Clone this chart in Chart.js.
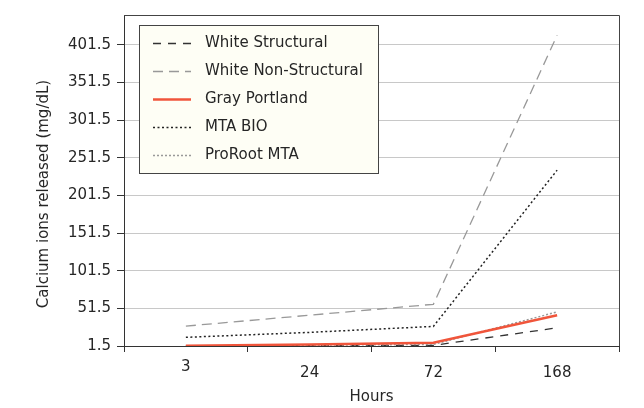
<!DOCTYPE html>
<html>
<head>
<meta charset="utf-8">
<script src="https://cdn.jsdelivr.net/npm/chart.js@4/dist/chart.umd.min.js"></script>
<style>
  body { margin: 0; background: #fff; }
  #chartCont { width: 644px; height: 408px; }
</style>
</head>
<body>
<div id="chartCont"><canvas id="myChart" width="644" height="408"></canvas></div>
<script>
const hours = ["3", "24", "72", "168"];
const whiteStructural = [1.5, 2, 2.4, 25.6];
const whiteNonStructural = [27.9, 42.4, 56.9, 414];
const grayPortland = [1.8, 3.5, 5.9, 42.4];
const mtaBio = [13, 19.6, 27.5, 235];
const proRootMta = [1.5, 2.5, 3.7, 46.7];
const yTicks = [1.5, 51.5, 101.5, 151.5, 201.5, 251.5, 301.5, 351.5, 401.5];
const yMin = 1.5;
const yMax = 441;

const FONT = "'DejaVu Sans', sans-serif";
const TEXT = "#262626";

// frame on top and right of plot area
const framePlugin = {
  id: "frame",
  afterDraw(chart) {
    const a = chart.chartArea;
    const ctx = chart.ctx;
    ctx.save();
    ctx.strokeStyle = "#444";
    ctx.lineWidth = 1;
    ctx.beginPath();
    ctx.moveTo(a.left, Math.round(a.top) + 0.5);
    ctx.lineTo(Math.round(a.right) + 0.5, Math.round(a.top) + 0.5);
    ctx.lineTo(Math.round(a.right) + 0.5, a.bottom);
    ctx.stroke();
    ctx.restore();
  },
};

// x tick labels, the first one sits a little higher
const xLabelPlugin = {
  id: "xLabels",
  afterDraw(chart) {
    const ctx = chart.ctx;
    const x = chart.scales.x;
    ctx.save();
    ctx.font = "15px " + FONT;
    ctx.fillStyle = TEXT;
    ctx.textAlign = "center";
    ctx.textBaseline = "middle";
    hours.forEach((h, i) => {
      const y = i === 0 ? 367 : 373;
      ctx.fillText(h, x.getPixelForValue(i), y);
    });
    ctx.restore();
  },
};

const yTitlePlugin = {
  id: "yTitle",
  afterDraw(chart) {
    const ctx = chart.ctx;
    ctx.save();
    ctx.translate(44, 194);
    ctx.rotate(-Math.PI / 2);
    ctx.font = "15px " + FONT;
    ctx.fillStyle = TEXT;
    ctx.textAlign = "center";
    ctx.textBaseline = "middle";
    ctx.fillText("Calcium ions released (mg/dL)", 0, 0);
    ctx.restore();
  },
};

const legendBoxPlugin = {
  id: "legendBox",
  afterDraw(chart) {
    const ctx = chart.ctx;
    const sets = chart.data.datasets;
    ctx.save();
    ctx.fillStyle = "#fefef5";
    ctx.fillRect(139.5, 25.5, 239, 148);
    ctx.strokeStyle = "#444";
    ctx.lineWidth = 1;
    ctx.strokeRect(139.5, 25.5, 239, 148);
    sets.forEach((ds, i) => {
      const y = 43 + 28 * i;
      ctx.strokeStyle = ds.borderColor;
      ctx.lineWidth = ds.borderWidth;
      ctx.setLineDash(ds.borderDash || []);
      ctx.beginPath();
      ctx.moveTo(153, y + 0.5);
      ctx.lineTo(191, y + 0.5);
      ctx.stroke();
      ctx.setLineDash([]);
      ctx.font = "15px " + FONT;
      ctx.fillStyle = TEXT;
      ctx.textAlign = "left";
      ctx.textBaseline = "middle";
      ctx.fillText(ds.label, 205, y);
    });
    ctx.restore();
  },
};

const ctx = document.getElementById("myChart");

const chart = new Chart(ctx, {
  type: "line",
  data: {
    labels: hours,
    datasets: [
      {
        label: "White Structural",
        data: whiteStructural,
        borderColor: "#333",
        borderWidth: 1.3,
        borderDash: [8, 7],
        order: 2,
      },
      {
        label: "White Non-Structural",
        data: whiteNonStructural,
        borderColor: "#999",
        borderWidth: 1.3,
        borderDash: [10, 6],
        order: 2,
      },
      {
        label: "Gray Portland",
        data: grayPortland,
        borderColor: "#f0553b",
        borderWidth: 2.5,
        order: 0,
      },
      {
        label: "MTA BIO",
        data: mtaBio,
        borderColor: "#222",
        borderWidth: 1.5,
        borderDash: [2, 2.5],
        order: 1,
      },
      {
        label: "ProRoot MTA",
        data: proRootMta,
        borderColor: "#999",
        borderWidth: 1.5,
        borderDash: [2, 2],
        order: 1,
      },
    ],
  },
  options: {
    responsive: false,
    animation: false,
    layout: { padding: { top: 13, right: 25, left: 0, bottom: 0 } },
    elements: {
      point: { radius: 0 },
      line: { tension: 0, fill: false },
    },
    scales: {
      x: {
        type: "category",
        offset: true,
        grid: {
          offset: true,
          drawOnChartArea: false,
          drawTicks: true,
          tickLength: 6,
          color: "#333",
        },
        border: { color: "#333", width: 1 },
        ticks: { display: false },
        title: {
          display: true,
          text: "Hours",
          color: TEXT,
          font: { family: FONT, size: 15 },
          padding: { top: 0, bottom: 2 },
        },
        afterFit: (s) => {
          s.height = 62;
        },
      },
      y: {
        min: yMin,
        max: yMax,
        afterBuildTicks: (s) => {
          s.ticks = yTicks.map((v) => ({ value: v }));
        },
        grid: {
          color: "#c8c8c8",
          tickColor: "#333",
          tickLength: 7,
        },
        border: { color: "#333", width: 1 },
        ticks: {
          color: TEXT,
          padding: 6,
          font: { family: FONT, size: 15 },
          callback: (v) => v.toFixed(1),
        },
        afterFit: (s) => {
          s.width = 124;
        },
      },
    },
    plugins: {
      legend: { display: false },
      tooltip: { enabled: false },
    },
  },
  plugins: [framePlugin, xLabelPlugin, yTitlePlugin, legendBoxPlugin],
});
</script>
</body>
</html>
